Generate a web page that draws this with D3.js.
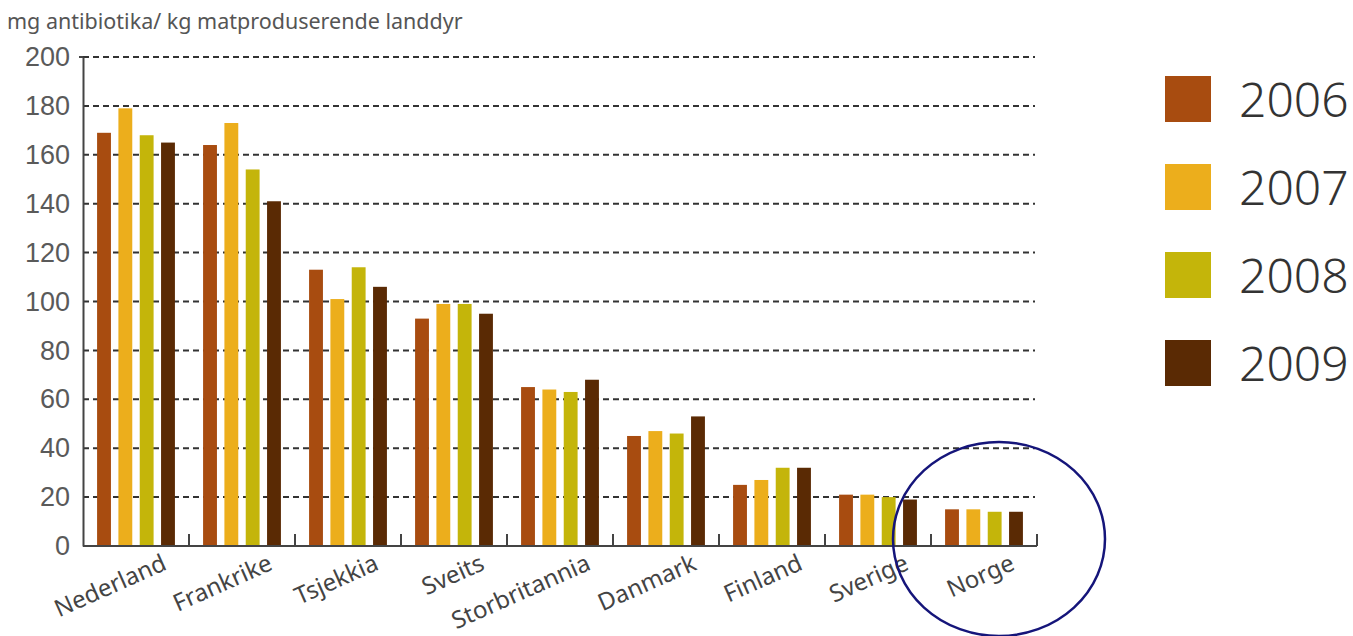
<!DOCTYPE html>
<html><head><meta charset="utf-8">
<script src="https://cdn.jsdelivr.net/npm/d3@7"></script>
<style>
body{margin:0;background:#fff;}
svg{display:block;font-family:"Noto Sans",sans-serif;}
</style></head>
<body><div id="chart"></div>
<script>
const countries = ["Nederland","Frankrike","Tsjekkia","Sveits","Storbritannia","Danmark","Finland","Sverige","Norge"];
const years = ["2006","2007","2008","2009"];
const v2006 = [169,164,113,93,65,45,25,21,15];
const v2007 = [179,173,101,99,64,47,27,21,15];
const v2008 = [168,154,114,99,63,46,32,20,14];
const v2009 = [165,141,106,95,68,53,32,19,14];
const yTicks = [0,20,40,60,80,100,120,140,160,180,200];
const colors = ["#a84c10","#ecae1c","#c4b50a","#5a2a04"];
const title = "mg antibiotika/ kg matproduserende landdyr";

const series = [v2006,v2007,v2008,v2009];
const W=1353,H=636;
const m={left:83,right:316,top:57,bottom:90};
const svg=d3.select("#chart").append("svg").attr("width",W).attr("height",H);

const x=d3.scaleBand().domain(countries).range([m.left,1037]).padding(0);
const xi=d3.scaleBand().domain(years).range([0,x.bandwidth()]).paddingInner(0.35).paddingOuter(0.66);
const y=d3.scaleLinear().domain([0,200]).range([546,57]);

// title
svg.append("text").attr("x",7).attr("y",29).attr("fill","#555").attr("font-size",21.5)
  .text(title);

// gridlines
svg.append("g").selectAll("line").data(yTicks.filter(d=>d>0)).join("line")
  .attr("x1",m.left).attr("x2",1035).attr("y1",d=>y(d)).attr("y2",d=>y(d))
  .attr("stroke","#333").attr("stroke-width",2).attr("stroke-dasharray","6,4");

// y axis
const ya=svg.append("g").attr("transform",`translate(${m.left},0)`)
  .call(d3.axisLeft(y).tickValues(yTicks).tickSize(0).tickPadding(13));
ya.select(".domain").attr("stroke","#444").attr("stroke-width",2);
ya.selectAll("text").attr("font-size",27).attr("fill","#5a5a5a").attr("font-weight",300);
ya.append("line").attr("x1",-4).attr("x2",0).attr("y1",y(200)).attr("y2",y(200)).attr("stroke","#444").attr("stroke-width",2);

// bars
const g=svg.append("g");
countries.forEach((c,ci)=>{
  years.forEach((yr,si)=>{
    g.append("rect")
      .attr("x",x(c)+xi(yr)).attr("width",xi.bandwidth())
      .attr("y",y(series[si][ci])).attr("height",y(0)-y(series[si][ci]))
      .attr("fill",colors[si]);
  });
});

// x axis
svg.append("line").attr("x1",m.left).attr("x2",1037).attr("y1",y(0)).attr("y2",y(0))
  .attr("stroke","#444").attr("stroke-width",2);
const bounds=countries.map(c=>x(c)+x.bandwidth());
svg.append("g").selectAll("line").data(bounds).join("line")
  .attr("x1",d=>d).attr("x2",d=>d).attr("y1",y(0)).attr("y2",y(0)-12)
  .attr("stroke","#444").attr("stroke-width",2);

svg.append("g").selectAll("text").data(countries).join("text")
  .attr("transform",c=>`translate(${x(c)+x.bandwidth()/2+32},${569}) rotate(-24)`)
  .attr("text-anchor","end").attr("font-size",24).attr("fill","#444")
  .text(d=>d);

// legend
const lg=svg.append("g");
years.forEach((yr,i)=>{
  const ly=76+i*88;
  lg.append("rect").attr("x",1165).attr("y",ly).attr("width",46).attr("height",46).attr("fill",colors[i]);
  lg.append("text").attr("x",1239).attr("y",ly+41).attr("font-size",48).attr("fill","#333")
    .attr("font-weight",300).text(yr);
});

// circle annotation
svg.append("ellipse").attr("cx",999).attr("cy",539).attr("rx",106).attr("ry",97)
  .attr("fill","none").attr("stroke","#15157a").attr("stroke-width",2.5);
</script></body></html>
